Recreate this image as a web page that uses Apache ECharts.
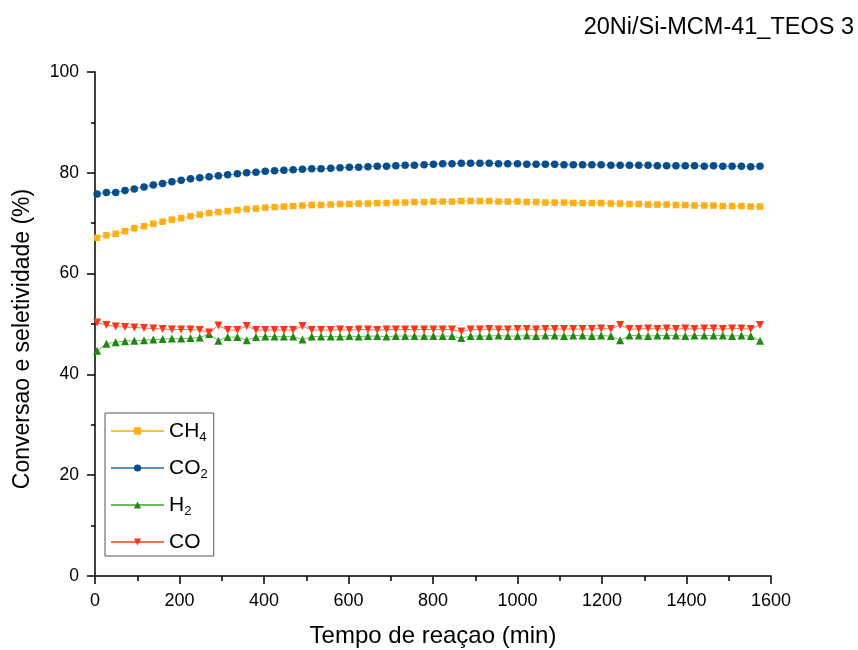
<!DOCTYPE html>
<html>
<head>
<meta charset="utf-8">
<script src="https://cdn.jsdelivr.net/npm/echarts@6/dist/echarts.min.js"></script>
<style>
  html, body { margin: 0; padding: 0; background: #fff; }
  #chart { width: 858px; height: 650px; }
</style>
</head>
<body>
<div id="chart"></div>
<script>
// reaction time (min)
var tempo = [5, 27, 49, 71, 93, 116, 138, 160, 182, 204, 226, 248, 270, 292, 314, 337, 359, 381,
  403, 425, 447, 469, 491, 513, 535, 558, 580, 602, 624, 646, 668, 690, 712, 734, 756, 779,
  801, 823, 845, 867, 889, 911, 933, 955, 977, 1000, 1022, 1044, 1066, 1088, 1110, 1132, 1154, 1176,
  1198, 1221, 1243, 1265, 1287, 1309, 1331, 1353, 1375, 1397, 1419, 1442, 1464, 1486, 1508, 1530, 1552, 1574]

var ch4 = [67.1, 67.6, 67.9, 68.4, 69.0, 69.4, 69.9, 70.3, 70.7, 71.0, 71.4, 71.7, 72.0, 72.2, 72.4, 72.6, 72.8, 72.9,
  73.1, 73.2, 73.3, 73.4, 73.5, 73.6, 73.6, 73.7, 73.8, 73.8, 73.9, 73.9, 74.0, 74.0, 74.1, 74.1, 74.2, 74.2,
  74.3, 74.3, 74.3, 74.4, 74.4, 74.4, 74.4, 74.3, 74.3, 74.3, 74.2, 74.2, 74.1, 74.1, 74.1, 74.0, 74.0, 74.0,
  74.0, 73.9, 73.9, 73.8, 73.8, 73.7, 73.7, 73.7, 73.6, 73.6, 73.5, 73.5, 73.5, 73.4, 73.4, 73.4, 73.3, 73.3]

var co2 = [75.8, 76.1, 76.1, 76.5, 76.8, 77.2, 77.6, 77.9, 78.2, 78.5, 78.8, 79.0, 79.2, 79.4, 79.6, 79.8, 80.0, 80.1,
  80.3, 80.4, 80.5, 80.6, 80.7, 80.8, 80.8, 80.9, 81.0, 81.1, 81.1, 81.2, 81.3, 81.3, 81.4, 81.5, 81.5, 81.6,
  81.7, 81.8, 81.8, 81.9, 81.9, 81.9, 81.9, 81.8, 81.8, 81.8, 81.7, 81.7, 81.7, 81.7, 81.6, 81.6, 81.6, 81.6,
  81.6, 81.5, 81.5, 81.5, 81.5, 81.5, 81.4, 81.4, 81.4, 81.4, 81.4, 81.3, 81.4, 81.3, 81.3, 81.3, 81.2, 81.3]

var h2 = [44.7, 46.1, 46.4, 46.6, 46.7, 46.8, 46.9, 47.0, 47.1, 47.1, 47.2, 47.3, 48.0, 46.7, 47.4, 47.4, 46.8, 47.4,
  47.5, 47.5, 47.5, 47.5, 46.9, 47.5, 47.5, 47.5, 47.5, 47.6, 47.5, 47.6, 47.6, 47.5, 47.6, 47.6, 47.6, 47.6,
  47.6, 47.6, 47.6, 47.2, 47.6, 47.6, 47.6, 47.7, 47.6, 47.6, 47.7, 47.6, 47.7, 47.7, 47.6, 47.7, 47.7, 47.6,
  47.7, 47.6, 46.8, 47.7, 47.7, 47.6, 47.7, 47.7, 47.7, 47.6, 47.7, 47.7, 47.7, 47.7, 47.6, 47.7, 47.6, 46.7]

var co = [50.3, 49.8, 49.5, 49.4, 49.3, 49.2, 49.1, 49.0, 48.9, 48.9, 48.9, 48.8, 48.3, 49.7, 48.8, 48.8, 49.6, 48.8,
  48.8, 48.8, 48.8, 48.8, 49.6, 48.8, 48.8, 48.8, 48.9, 48.8, 48.9, 48.9, 48.8, 48.9, 48.9, 48.9, 48.9, 48.9,
  48.9, 48.9, 48.9, 48.5, 48.9, 48.9, 49.0, 48.9, 48.9, 49.0, 49.0, 48.9, 49.0, 49.0, 49.0, 49.0, 49.0, 49.0,
  49.1, 49.0, 49.8, 49.0, 49.0, 49.1, 49.0, 49.1, 49.0, 49.1, 49.0, 49.1, 49.1, 49.0, 49.1, 49.1, 49.0, 49.8]

var xTicks = [0, 200, 400, 600, 800, 1000, 1200, 1400, 1600]
var yTicks = [0, 20, 40, 60, 80, 100]

function pares (vals) {
  return tempo.map(function (t, i) { return [t, vals[i]] })
}

var fonte = 'Arial, "Liberation Sans", sans-serif'

var series = [
  { name: 'CH{s|4}', data: pares(ch4), symbol: 'rect', symbolSize: 6.5, color: '#FCAF17', line: '#F9C04A' },
  { name: 'CO{s|2}', data: pares(co2), symbol: 'circle', symbolSize: 7.5, color: '#064F8C', line: '#5E8EBB' },
  { name: 'H{s|2}', data: pares(h2), symbol: 'triangle', symbolSize: 8, color: '#1F8A12', line: '#6CBB5F' },
  { name: 'CO', data: pares(co), symbol: 'triangle', symbolSize: 8, rotate: 180, color: '#FF3516', line: '#FF6B55' }
].map(function (s) {
  return {
    name: s.name,
    type: 'line',
    data: s.data,
    symbol: s.symbol,
    symbolSize: s.symbolSize,
    symbolRotate: s.rotate || 0,
    showAllSymbol: true,
    animation: false,
    itemStyle: { color: s.color },
    lineStyle: { color: s.line, width: 1 },
    z: 3
  }
})

var chart = echarts.init(document.getElementById('chart'), null, { renderer: 'canvas' })
chart.setOption({
  backgroundColor: '#fff',
  animation: false,
  title: {
    text: '20Ni/Si-MCM-41_TEOS 3',
    right: 4,
    top: 16,
    padding: 0,
    textStyle: { fontFamily: fonte, fontSize: 23.5, fontWeight: 'normal', color: '#000' }
  },
  grid: { left: 95, right: 87, top: 72, bottom: 74, containLabel: false, outerBoundsMode: 'none' },
  legend: {
    orient: 'vertical',
    left: 105,
    top: 413,
    width: 110,
    padding: [5, 6, 1, 5],
    borderColor: '#555',
    borderWidth: 1,
    itemWidth: 53,
    itemHeight: 9,
    itemGap: 11,
    selectedMode: false,
    textStyle: {
      fontFamily: fonte,
      fontSize: 21,
      color: '#000',
      lineHeight: 26,
      rich: {
        s: { fontFamily: fonte, fontSize: 13, color: '#000', lineHeight: 2, verticalAlign: 'bottom' }
      }
    },
    data: series.map(function (s) { return s.name })
  },
  xAxis: {
    type: 'value',
    min: 0,
    max: 1600,
    interval: 200,
    name: 'Tempo de reaçao (min)',
    nameLocation: 'middle',
    nameGap: 48,
    nameTextStyle: { fontFamily: fonte, fontSize: 24, color: '#000' },
    axisLine: { show: true, onZero: false, lineStyle: { color: '#000', width: 1.5 } },
    axisTick: { show: true, length: 8, lineStyle: { color: '#000', width: 1.5 } },
    minorTick: { show: true, splitNumber: 2, length: 5, lineStyle: { color: '#000', width: 1.5 } },
    axisLabel: {
      margin: 16, fontFamily: fonte, fontSize: 18, color: '#000',
      formatter: function (v) { return xTicks.indexOf(v) >= 0 ? String(v) : '' }
    },
    splitLine: { show: false }
  },
  yAxis: {
    type: 'value',
    min: 0,
    max: 100,
    interval: 20,
    name: 'Conversao e seletividade (%)',
    nameLocation: 'middle',
    nameGap: 61,
    nameTextStyle: { fontFamily: fonte, fontSize: 23, color: '#000', padding: [0, 30, 0, 0] },
    axisLine: { show: true, onZero: false, lineStyle: { color: '#000', width: 1.5 } },
    axisTick: { show: true, length: 8, lineStyle: { color: '#000', width: 1.5 } },
    minorTick: { show: true, splitNumber: 2, length: 4, lineStyle: { color: '#000', width: 1.5 } },
    axisLabel: {
      margin: 16, fontFamily: fonte, fontSize: 17.5, color: '#000',
      formatter: function (v) { return yTicks.indexOf(v) >= 0 ? String(v) : '' }
    },
    splitLine: { show: false }
  },
  series: series
})
</script>
</body>
</html>
